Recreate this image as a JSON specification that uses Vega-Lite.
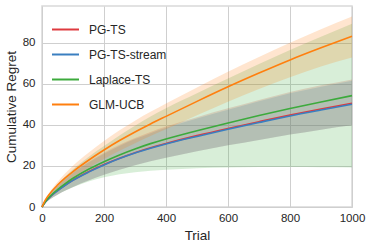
{
  "$schema": "https://vega.github.io/schema/vega-lite/v6.json",
  "width": 310,
  "height": 201,
  "autosize": {"type": "none"},
  "padding": {"left": 42, "top": 6, "right": 21, "bottom": 41},
  "background": "white",
  "data": {"values": [
    {"s":"PG-TS","t":0,"m":0,"lo":0,"hi":0},
    {"s":"PG-TS","t":10,"m":2.3,"lo":1.7,"hi":3.0},
    {"s":"PG-TS","t":25,"m":4.8,"lo":3.6,"hi":6.2},
    {"s":"PG-TS","t":50,"m":8.0,"lo":6.0,"hi":10.3},
    {"s":"PG-TS","t":75,"m":10.7,"lo":8.0,"hi":13.8},
    {"s":"PG-TS","t":100,"m":13.1,"lo":9.8,"hi":16.9},
    {"s":"PG-TS","t":150,"m":17.2,"lo":12.9,"hi":22.1},
    {"s":"PG-TS","t":200,"m":20.7,"lo":15.7,"hi":26.5},
    {"s":"PG-TS","t":250,"m":23.8,"lo":18.2,"hi":30.3},
    {"s":"PG-TS","t":300,"m":26.5,"lo":20.4,"hi":33.6},
    {"s":"PG-TS","t":350,"m":28.9,"lo":22.3,"hi":36.6},
    {"s":"PG-TS","t":400,"m":31.0,"lo":24.0,"hi":39.2},
    {"s":"PG-TS","t":500,"m":34.8,"lo":27.2,"hi":43.8},
    {"s":"PG-TS","t":600,"m":38.3,"lo":30.1,"hi":48.1},
    {"s":"PG-TS","t":700,"m":41.6,"lo":32.7,"hi":52.2},
    {"s":"PG-TS","t":800,"m":44.8,"lo":35.3,"hi":56.1},
    {"s":"PG-TS","t":900,"m":47.8,"lo":37.7,"hi":59.3},
    {"s":"PG-TS","t":1000,"m":50.6,"lo":39.8,"hi":62.2},
    {"s":"PG-TS-stream","t":0,"m":0,"lo":0,"hi":0},
    {"s":"PG-TS-stream","t":10,"m":2.3,"lo":1.7,"hi":2.9},
    {"s":"PG-TS-stream","t":25,"m":4.8,"lo":3.6,"hi":6.1},
    {"s":"PG-TS-stream","t":50,"m":7.9,"lo":6.0,"hi":10.1},
    {"s":"PG-TS-stream","t":75,"m":10.6,"lo":8.0,"hi":13.5},
    {"s":"PG-TS-stream","t":100,"m":13.0,"lo":9.8,"hi":16.6},
    {"s":"PG-TS-stream","t":150,"m":17.0,"lo":12.9,"hi":21.7},
    {"s":"PG-TS-stream","t":200,"m":20.5,"lo":15.7,"hi":26.0},
    {"s":"PG-TS-stream","t":250,"m":23.6,"lo":18.2,"hi":29.8},
    {"s":"PG-TS-stream","t":300,"m":26.3,"lo":20.4,"hi":33.1},
    {"s":"PG-TS-stream","t":350,"m":28.6,"lo":22.3,"hi":36.0},
    {"s":"PG-TS-stream","t":400,"m":30.7,"lo":24.0,"hi":38.6},
    {"s":"PG-TS-stream","t":500,"m":34.4,"lo":27.2,"hi":43.2},
    {"s":"PG-TS-stream","t":600,"m":37.9,"lo":30.1,"hi":47.4},
    {"s":"PG-TS-stream","t":700,"m":41.2,"lo":32.7,"hi":51.5},
    {"s":"PG-TS-stream","t":800,"m":44.4,"lo":35.3,"hi":55.4},
    {"s":"PG-TS-stream","t":900,"m":47.3,"lo":37.7,"hi":58.6},
    {"s":"PG-TS-stream","t":1000,"m":50.1,"lo":39.8,"hi":61.6},
    {"s":"Laplace-TS","t":0,"m":0,"lo":0,"hi":0},
    {"s":"Laplace-TS","t":10,"m":2.4,"lo":1.8,"hi":3.0},
    {"s":"Laplace-TS","t":25,"m":5.1,"lo":3.7,"hi":6.5},
    {"s":"Laplace-TS","t":50,"m":8.5,"lo":6.0,"hi":11.0},
    {"s":"Laplace-TS","t":75,"m":11.4,"lo":7.9,"hi":14.9},
    {"s":"Laplace-TS","t":100,"m":14.0,"lo":9.6,"hi":18.4},
    {"s":"Laplace-TS","t":150,"m":18.4,"lo":12.4,"hi":24.4},
    {"s":"Laplace-TS","t":200,"m":22.1,"lo":14.5,"hi":29.7},
    {"s":"Laplace-TS","t":250,"m":25.4,"lo":16.0,"hi":34.8},
    {"s":"Laplace-TS","t":300,"m":28.3,"lo":17.0,"hi":39.6},
    {"s":"Laplace-TS","t":350,"m":30.9,"lo":17.7,"hi":44.1},
    {"s":"Laplace-TS","t":400,"m":33.2,"lo":18.2,"hi":48.2},
    {"s":"Laplace-TS","t":500,"m":37.2,"lo":18.9,"hi":55.5},
    {"s":"Laplace-TS","t":600,"m":41.0,"lo":19.3,"hi":62.7},
    {"s":"Laplace-TS","t":700,"m":44.6,"lo":19.5,"hi":69.7},
    {"s":"Laplace-TS","t":800,"m":48.0,"lo":19.5,"hi":76.5},
    {"s":"Laplace-TS","t":900,"m":51.2,"lo":19.4,"hi":83.0},
    {"s":"Laplace-TS","t":1000,"m":54.3,"lo":19.3,"hi":89.3},
    {"s":"GLM-UCB","t":0,"m":0,"lo":0,"hi":0},
    {"s":"GLM-UCB","t":10,"m":3.2,"lo":2.8,"hi":3.6},
    {"s":"GLM-UCB","t":25,"m":6.5,"lo":5.7,"hi":7.3},
    {"s":"GLM-UCB","t":50,"m":10.7,"lo":9.2,"hi":12.2},
    {"s":"GLM-UCB","t":75,"m":14.2,"lo":12.0,"hi":16.4},
    {"s":"GLM-UCB","t":100,"m":17.3,"lo":14.5,"hi":20.1},
    {"s":"GLM-UCB","t":150,"m":22.8,"lo":19.1,"hi":26.5},
    {"s":"GLM-UCB","t":200,"m":27.8,"lo":23.4,"hi":32.2},
    {"s":"GLM-UCB","t":250,"m":32.4,"lo":27.4,"hi":37.4},
    {"s":"GLM-UCB","t":300,"m":36.6,"lo":31.1,"hi":42.1},
    {"s":"GLM-UCB","t":350,"m":40.5,"lo":34.6,"hi":46.4},
    {"s":"GLM-UCB","t":400,"m":44.2,"lo":37.9,"hi":50.5},
    {"s":"GLM-UCB","t":500,"m":51.5,"lo":44.7,"hi":58.3},
    {"s":"GLM-UCB","t":600,"m":58.6,"lo":51.3,"hi":65.9},
    {"s":"GLM-UCB","t":700,"m":65.3,"lo":57.5,"hi":73.1},
    {"s":"GLM-UCB","t":800,"m":71.7,"lo":63.3,"hi":80.1},
    {"s":"GLM-UCB","t":900,"m":77.6,"lo":68.5,"hi":86.7},
    {"s":"GLM-UCB","t":1000,"m":83.2,"lo":72.9,"hi":92.9}
  ]},
  "layer": [
    {
      "mark": {"type": "area", "fillOpacity": 0.2, "interpolate": "monotone"},
      "encoding": {
        "x": {"field": "t", "type": "quantitative", "scale": {"domain": [0, 1000], "nice": false}, "axis": {"values": [0, 200, 400, 600, 800, 1000], "format": "d", "title": "Trial", "labelFlush": false, "labelPadding": 5, "titlePadding": 5}},
        "y": {"field": "lo", "type": "quantitative", "scale": {"domain": [0, 98], "nice": false}, "axis": {"values": [0, 20, 40, 60, 80], "title": "Cumulative Regret", "labelFlush": false, "labelPadding": 7, "titlePadding": 4}},
        "y2": {"field": "hi"},
        "fill": {"field": "s", "type": "nominal", "legend": null, "scale": {"domain": ["PG-TS", "PG-TS-stream", "Laplace-TS", "GLM-UCB"], "range": ["#de3a3f", "#3a7fc0", "#3caa3c", "#ff7f0e"]}}
      }
    },
    {
      "mark": {"type": "line", "strokeWidth": 1.6, "interpolate": "monotone"},
      "encoding": {
        "x": {"field": "t", "type": "quantitative"},
        "y": {"field": "m", "type": "quantitative"},
        "color": {"field": "s", "type": "nominal", "sort": null, "scale": {"domain": ["PG-TS", "PG-TS-stream", "Laplace-TS", "GLM-UCB"], "range": ["#de3a3f", "#3a7fc0", "#3caa3c", "#ff7f0e"]}, "legend": {"title": null}}
      }
    }
  ],
  "resolve": {"scale": {"color": "independent", "fill": "independent"}},
  "config": {
    "font": "Liberation Sans",
    "view": {"stroke": "#d9d9d9", "strokeWidth": 1.5},
    "axis": {"grid": true, "gridColor": "#cfcfcf", "gridWidth": 1, "domain": false, "ticks": false, "labelColor": "#262626", "titleColor": "#262626", "labelFontSize": 11.5, "titleFontSize": 13.5, "titleFontWeight": "normal"},
    "legend": {"orient": "none", "legendX": 9, "legendY": 9, "symbolType": "stroke", "symbolSize": 729, "symbolStrokeWidth": 2, "labelFontSize": 12, "labelColor": "#262626", "labelOffset": 9, "rowPadding": 4, "padding": 0}
  }
}
